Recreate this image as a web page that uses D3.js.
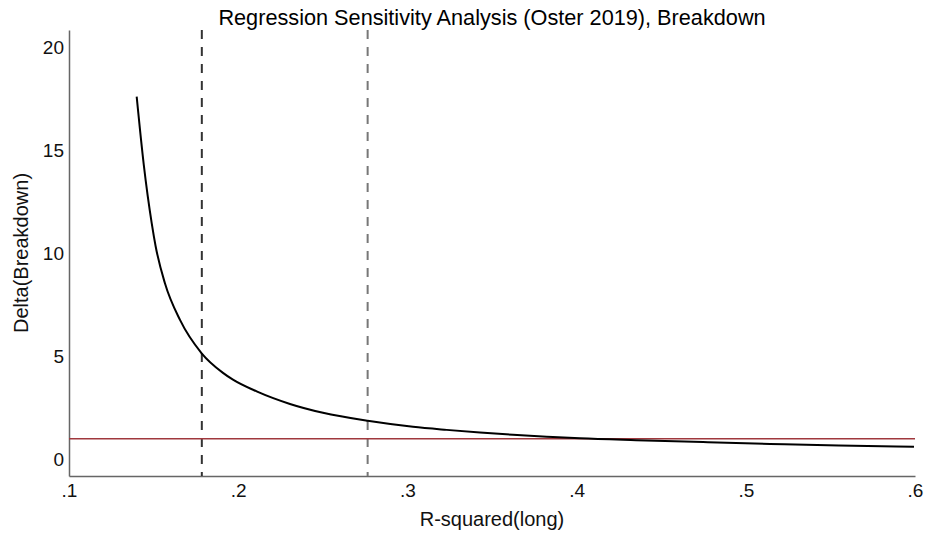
<!DOCTYPE html>
<html>
<head>
<meta charset="utf-8">
<script src="https://cdn.jsdelivr.net/npm/d3@7"></script>
<style>
  html, body { margin: 0; padding: 0; background: #fff; }
  svg { display: block; font-family: "Liberation Sans", Arial, sans-serif; }
</style>
</head>
<body>
<svg id="chart" width="930" height="535"></svg>
<script>
// ---- data ----
const rsq   = [0.1400, 0.1442, 0.1489, 0.1512, 0.1567, 0.1656, 0.1784, 0.1910, 0.1969, 0.2109,
               0.2306, 0.2501, 0.2765, 0.3033, 0.3232, 0.3429, 0.3624, 0.3823, 0.4020, 0.4351,
               0.4747, 0.5143, 0.5550, 0.5994];
const delta = [17.61, 14.30, 11.46, 10.35, 8.55, 6.77, 5.15, 4.20, 3.87, 3.30,
               2.69, 2.26, 1.87, 1.58, 1.43, 1.30, 1.19, 1.10, 1.02, 0.93,
               0.84, 0.75, 0.67, 0.61];
const refLines   = [0.1785, 0.2765];
const refColors  = ["#333333", "#777777"];
const deltaLine  = 1;
const xTicks     = [0.1, 0.2, 0.3, 0.4, 0.5, 0.6];
const xTickLabels = [".1", ".2", ".3", ".4", ".5", ".6"];
const yTicks     = [0, 5, 10, 15, 20];
const title  = "Regression Sensitivity Analysis (Oster 2019), Breakdown";
const xTitle = "R-squared(long)";
const yTitle = "Delta(Breakdown)";

// ---- layout ----
const svg = d3.select("#chart");
const mLeft = 69, mRight = 915, mTop = 30, mBottom = 476;

const x = d3.scaleLinear().domain([0.1, 0.6]).range([mLeft, mRight]);
const y = d3.scaleLinear().domain([-0.81, 20.85]).range([mBottom, mTop]);

// title
svg.append("text")
  .attr("x", (mLeft + mRight) / 2).attr("y", 25)
  .attr("text-anchor", "middle")
  .attr("font-size", 21.7).attr("fill", "#000")
  .text(title);

// axes
const xAxis = d3.axisBottom(x).tickValues(xTicks)
  .tickFormat((d, i) => xTickLabels[i]).tickSize(0).tickPadding(8);
const gx = svg.append("g").attr("transform", `translate(0,${mBottom})`).call(xAxis);
gx.select(".domain").attr("stroke", "#666").attr("stroke-width", 1.5);
gx.selectAll("text").attr("font-size", 19).attr("fill", "#111")
  .attr("font-family", "Liberation Sans, Arial, sans-serif");

const yAxis = d3.axisLeft(y).tickValues(yTicks).tickSize(0).tickPadding(5);
const gy = svg.append("g").attr("transform", `translate(${mLeft},0)`).call(yAxis);
gy.select(".domain").attr("stroke", "#666").attr("stroke-width", 1.5);
gy.selectAll("text").attr("font-size", 19).attr("fill", "#111")
  .attr("font-family", "Liberation Sans, Arial, sans-serif");

// axis titles
svg.append("text")
  .attr("x", (mLeft + mRight) / 2).attr("y", 526)
  .attr("text-anchor", "middle").attr("font-size", 20).attr("fill", "#111")
  .text(xTitle);
svg.append("text")
  .attr("transform", `translate(28,${(mTop + mBottom) / 2}) rotate(-90)`)
  .attr("text-anchor", "middle").attr("font-size", 20).attr("fill", "#111")
  .text(yTitle);

// vertical dashed reference lines
svg.selectAll("line.ref").data(refLines).enter().append("line")
  .attr("class", "ref")
  .attr("x1", d => x(d)).attr("x2", d => x(d))
  .attr("y1", mTop).attr("y2", mBottom)
  .attr("stroke", (d, i) => refColors[i]).attr("stroke-width", 2)
  .attr("stroke-dasharray", "9,8");

// horizontal delta = 1 line
svg.append("line")
  .attr("x1", x(0.1)).attr("x2", x(0.6))
  .attr("y1", y(deltaLine)).attr("y2", y(deltaLine))
  .attr("stroke", "#a0383d").attr("stroke-width", 1.6);

// curve
const pts = rsq.map((r, i) => [r, delta[i]]);
svg.append("path")
  .datum(pts)
  .attr("fill", "none").attr("stroke", "#000").attr("stroke-width", 2)
  .attr("d", d3.line().x(d => x(d[0])).y(d => y(d[1])).curve(d3.curveMonotoneX));
</script>
</body>
</html>
